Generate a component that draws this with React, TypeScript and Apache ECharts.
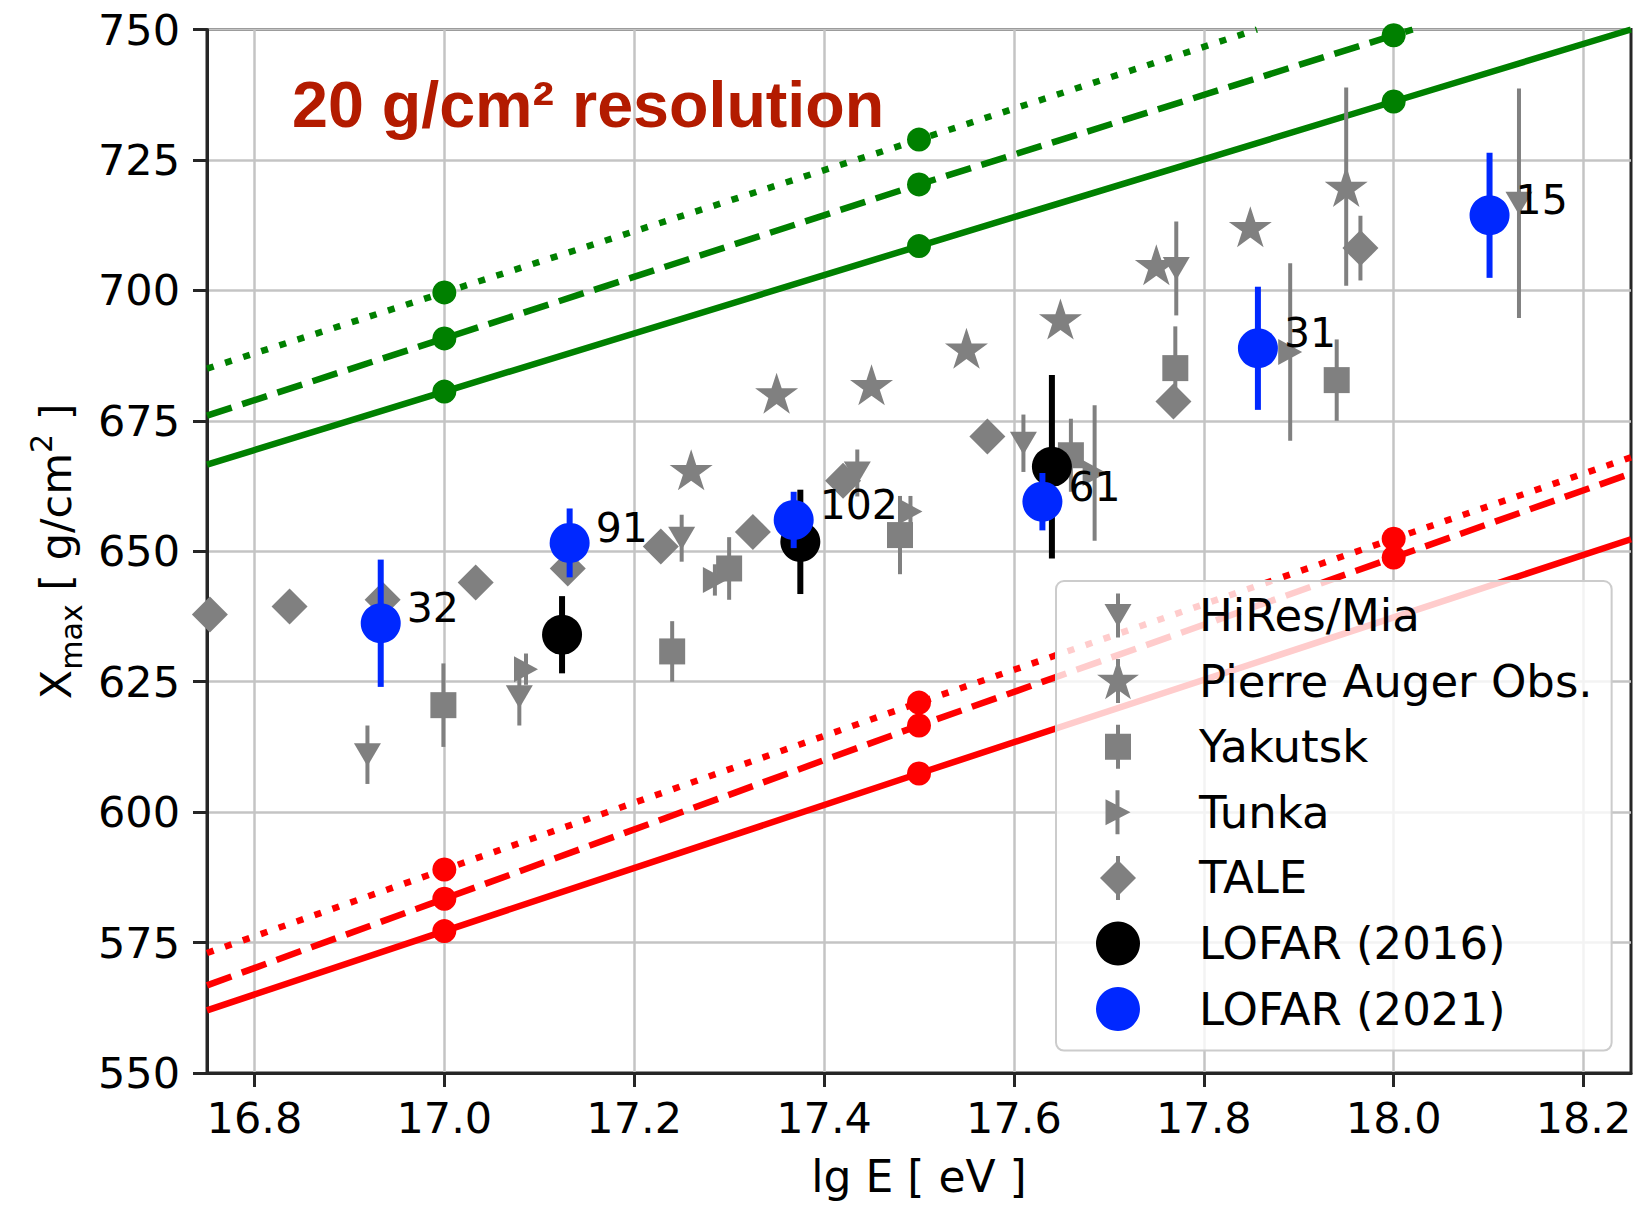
import React, { useEffect, useRef } from 'react';
import * as echarts from 'echarts';

// ---------- data ----------
const xTickValues = [16.8, 17.0, 17.2, 17.4, 17.6, 17.8, 18.0, 18.2];
const yMin = 550;
const yMax = 750;
const yInterval = 25;

// [lg E, Xmax, error]
const hiresMia = [
  [16.919, 611.0, 5.6],
  [17.079, 622.1, 5.5],
  [17.25, 652.5, 4.5],
  [17.435, 665.0, 4.5],
  [17.61, 670.7, 5.5],
  [17.771, 704.2, 9.0],
  [18.132, 716.7, 22.0],
];
const augerObs = [
  [17.26, 665.6, 2],
  [17.35, 680.3, 2],
  [17.45, 681.9, 2],
  [17.55, 688.9, 2],
  [17.649, 694.5, 2],
  [17.75, 704.9, 2],
  [17.849, 712.2, 2],
  [17.95, 719.9, 19],
];
const yakutsk = [
  [16.999, 620.5, 8.0],
  [17.24, 630.8, 5.8],
  [17.3, 646.7, 6.0],
  [17.48, 653.1, 7.5],
  [17.66, 668.4, 7.0],
  [17.77, 685.1, 8.0],
  [17.94, 682.8, 7.8],
];
const tunka = [
  [17.086, 627.4, 3],
  [17.285, 644.5, 3],
  [17.491, 657.6, 3],
  [17.685, 665.0, 13],
  [17.891, 688.2, 17],
];
const tale = [
  [16.753, 637.9, 3],
  [16.837, 639.4, 3],
  [16.935, 640.7, 3],
  [17.033, 644.0, 3],
  [17.13, 646.7, 3],
  [17.228, 650.9, 3],
  [17.325, 653.7, 3],
  [17.42, 663.5, 3],
  [17.572, 672.0, 3],
  [17.768, 678.7, 3],
  [17.965, 708.1, 6.2],
];
const lofar2016 = [
  [17.124, 634.0, 7.4],
  [17.375, 651.8, 10.0],
  [17.64, 666.2, 17.6],
];
const lofar2021 = [
  [16.933, 636.2, 12.2],
  [17.132, 651.6, 6.6],
  [17.368, 656.0, 5.4],
  [17.63, 659.5, 5.5],
  [17.857, 688.9, 11.8],
  [18.101, 714.4, 12.0],
];
const lofar2021Labels = ['32', '91', '102', '61', '31', '15'];

// model lines: [lg E, Xmax, hasMarker]
const greenSolid = [[16.75, 666.6, 0], [17.0, 680.6, 1], [17.5, 708.5, 1], [18.0, 736.2, 1], [18.25, 750.0, 0]];
const greenDashed = [[16.75, 676.0, 0], [17.0, 690.8, 1], [17.5, 720.3, 1], [18.0, 748.9, 1], [18.02, 750.0, 0]];
const greenDotted = [[16.75, 685.0, 0], [17.0, 699.6, 1], [17.5, 728.9, 1], [17.856, 750.0, 0]];
const redSolid = [[16.75, 562.0, 0], [17.0, 577.2, 1], [17.5, 607.4, 1], [18.25, 652.3, 0]];
const redDashed = [[16.75, 566.8, 0], [17.0, 583.4, 1], [17.5, 616.6, 1], [18.0, 648.8, 1], [18.25, 664.9, 0]];
const redDotted = [[16.75, 573.0, 0], [17.0, 589.0, 1], [17.5, 621.0, 1], [18.0, 652.4, 1], [18.25, 668.0, 0]];

// ---------- styles ----------
const GRAY = '#808080';
const GREEN = '#008000';
const RED = '#ff0000';
const BLUE = '#0028ff';
const FONT = 'DejaVu Sans';

function starPoints(cx: number, cy: number, R: number): string {
  const pts: string[] = [];
  for (let i = 0; i < 10; i++) {
    const r = i % 2 === 0 ? R : R * 0.381966;
    const a = -Math.PI / 2 + (i * Math.PI) / 5;
    pts.push(`${(cx + r * Math.cos(a)).toFixed(2)} ${(cy + r * Math.sin(a)).toFixed(2)}`);
  }
  return 'M' + pts.join(' L') + ' Z';
}
const STAR = 'path://' + starPoints(50, 50, 50);
const BAR = 'M20 0 L24 0 L24 44 L20 44 Z ';
const iconHires = 'path://' + BAR + 'M8.5 10.5 L35.5 10.5 L22 33.5 Z';
const iconAuger = 'path://' + BAR + starPoints(22, 22.4, 22);
const iconYakutsk = 'path://' + BAR + 'M9 9 L35 9 L35 35 L9 35 Z';
const iconTunka = 'path://' + BAR + 'M10 9 L35 22 L10 35 Z';
const iconTale = 'path://' + BAR + 'M22 4 L40 22 L22 40 L4 22 Z';

function errData(arr: number[][]) {
  return arr.filter((p) => p[2] > 0).map((p) => [p[0], p[1] - p[2], p[1] + p[2]]);
}

function errSeries(name: string, arr: number[][], color: string, width: number, z: number) {
  return {
    name,
    type: 'custom',
    coordinateSystem: 'cartesian2d',
    data: errData(arr),
    encode: { x: 0, y: [1, 2] },
    clip: true,
    silent: true,
    z,
    renderItem: (params: any, api: any) => {
      const x = api.value(0);
      const a = api.coord([x, api.value(1)]);
      const b = api.coord([x, api.value(2)]);
      return {
        type: 'line',
        shape: { x1: a[0], y1: a[1], x2: b[0], y2: b[1] },
        style: { stroke: color, lineWidth: width },
      };
    },
  };
}

function scatterSeries(name: string, arr: number[][], symbol: string, size: any, color: string, z: number, rotate = 0) {
  return {
    name,
    type: 'scatter',
    data: arr.map((p) => [p[0], p[1]]),
    symbol,
    symbolSize: size,
    symbolRotate: rotate,
    itemStyle: { color, opacity: 1 },
    z,
    silent: true,
  };
}

function modelLine(name: string, arr: number[][], color: string, type: any) {
  return {
    name,
    type: 'line',
    data: arr.map((p) => (p[2] ? { value: [p[0], p[1]] } : { value: [p[0], p[1]], symbol: 'none' })),
    symbol: 'circle',
    symbolSize: 24,
    showSymbol: true,
    showAllSymbol: true,
    itemStyle: { color },
    lineStyle: { color, width: 6.5, type, cap: 'butt' },
    clip: true,
    z: 2,
    silent: true,
  };
}

const option: any = {
  animation: false,
  backgroundColor: '#ffffff',
  textStyle: { fontFamily: FONT },
  grid: {
    left: 207,
    right: 4,
    top: 29.5,
    bottom: 132,
    show: true,
    borderColor: '#262626',
    borderWidth: 3,
    backgroundColor: 'transparent',
  },
  xAxis: {
    type: 'value',
    min: 16.75,
    max: 18.25,
    name: 'lg E [ eV ]',
    nameLocation: 'middle',
    nameGap: 81,
    nameTextStyle: { fontSize: 44, color: '#000', fontFamily: FONT },
    axisLine: { show: true, lineStyle: { color: '#262626', width: 3 } },
    axisTick: { show: true, length: 14, lineStyle: { color: '#262626', width: 3 }, customValues: xTickValues },
    axisLabel: {
      customValues: xTickValues,
      formatter: (v: number) => v.toFixed(1),
      fontSize: 43,
      color: '#000',
      fontFamily: FONT,
      margin: 23,
    },
    splitLine: { show: true, lineStyle: { color: '#c4c4c4', width: 2.5 } },
  },
  yAxis: {
    type: 'value',
    min: yMin,
    max: yMax,
    interval: yInterval,
    name: '{n|X}{sub|max}{n| [ g/cm}{sup|2}{n| ]}',
    nameLocation: 'middle',
    nameGap: 121,
    nameTextStyle: {
      color: '#000',
      fontFamily: FONT,
      rich: {
        n: { fontSize: 43, lineHeight: 60, verticalAlign: 'middle', fontFamily: FONT, color: '#000' },
        sub: { fontSize: 30, lineHeight: 30, verticalAlign: 'bottom', fontFamily: FONT, color: '#000' },
        sup: { fontSize: 30, lineHeight: 40, verticalAlign: 'top', fontFamily: FONT, color: '#000' },
      },
    },
    axisLine: { show: true, lineStyle: { color: '#262626', width: 3 } },
    axisTick: { show: true, length: 14, lineStyle: { color: '#262626', width: 3 } },
    axisLabel: { fontSize: 43, color: '#000', fontFamily: FONT, margin: 27 },
    splitLine: { show: true, lineStyle: { color: '#c4c4c4', width: 2.5 } },
  },
  legend: {
    orient: 'vertical',
    left: 1056,
    top: 581,
    itemWidth: 44,
    itemHeight: 44,
    itemGap: 20.6,
    padding: [12, 19, 19, 40],
    selectedMode: false,
    backgroundColor: 'rgba(255,255,255,0.8)',
    borderColor: '#cccccc',
    borderWidth: 2,
    borderRadius: 8,
    z: 20,
    textStyle: { fontSize: 45, color: '#000', fontFamily: FONT, padding: [0, 0, 0, 54] },
    data: [
      { name: 'HiRes/Mia', icon: iconHires, itemStyle: { color: GRAY, borderWidth: 0 } },
      { name: 'Pierre Auger Obs.', icon: iconAuger, itemStyle: { color: GRAY, borderWidth: 0 } },
      { name: 'Yakutsk', icon: iconYakutsk, itemStyle: { color: GRAY, borderWidth: 0 } },
      { name: 'Tunka', icon: iconTunka, itemStyle: { color: GRAY, borderWidth: 0 } },
      { name: 'TALE', icon: iconTale, itemStyle: { color: GRAY, borderWidth: 0 } },
      { name: 'LOFAR (2016)', icon: 'circle', itemStyle: { color: '#000', borderWidth: 0 } },
      { name: 'LOFAR (2021)', icon: 'circle', itemStyle: { color: BLUE, borderWidth: 0 } },
    ],
  },
  graphic: [
    {
      type: 'text',
      x: 292,
      y: 105,
      z: 30,
      style: {
        text: '20 g/cm² resolution',
        fill: '#b31b00',
        fontSize: 64.6,
        fontWeight: 'bold',
        fontFamily: 'Liberation Sans',
        verticalAlign: 'middle',
        align: 'left',
      },
    },
  ],
  series: [
    modelLine('green solid', greenSolid, GREEN, 'solid'),
    modelLine('green dashed', greenDashed, GREEN, [26, 11]),
    modelLine('green dotted', greenDotted, GREEN, [7, 12]),
    modelLine('red solid', redSolid, RED, 'solid'),
    modelLine('red dashed', redDashed, RED, [26, 11]),
    modelLine('red dotted', redDotted, RED, [7, 12]),

    errSeries('HiRes/Mia err', hiresMia, GRAY, 4, 3),
    scatterSeries('HiRes/Mia', hiresMia, 'triangle', [27, 23], GRAY, 3, 180),
    errSeries('Auger err', augerObs, GRAY, 4, 3),
    scatterSeries('Pierre Auger Obs.', augerObs, STAR, [43, 41], GRAY, 3),
    errSeries('Yakutsk err', yakutsk, GRAY, 4, 3),
    scatterSeries('Yakutsk', yakutsk, 'rect', 26, GRAY, 3),
    errSeries('Tunka err', tunka, GRAY, 4, 3),
    scatterSeries('Tunka', tunka, 'triangle', [26, 24], GRAY, 3, -90),
    errSeries('TALE err', tale, GRAY, 4, 3),
    scatterSeries('TALE', tale, 'diamond', 36, GRAY, 3),

    errSeries('LOFAR 2016 err', lofar2016, '#000', 6, 4),
    scatterSeries('LOFAR (2016)', lofar2016, 'circle', 40, '#000', 4),

    errSeries('LOFAR 2021 err', lofar2021, BLUE, 6, 5),
    {
      ...scatterSeries('LOFAR (2021)', lofar2021, 'circle', 40, BLUE, 5),
      label: {
        show: true,
        formatter: (p: any) => lofar2021Labels[p.dataIndex],
        position: [46, 5],
        align: 'left',
        verticalAlign: 'middle',
        fontSize: 41,
        color: '#000',
        fontFamily: FONT,
      },
    },
  ],
};

export default function App() {
  const ref = useRef<HTMLDivElement>(null);
  useEffect(() => {
    if (!ref.current) return;
    const chart = echarts.init(ref.current, null, { renderer: 'svg' });
    chart.setOption(option);
    return () => chart.dispose();
  }, []);
  return (
    <div
      ref={ref}
      style={{ position: 'fixed', left: 0, top: 0, width: 1635, height: 1205, background: '#fff' }}
    />
  );
}
